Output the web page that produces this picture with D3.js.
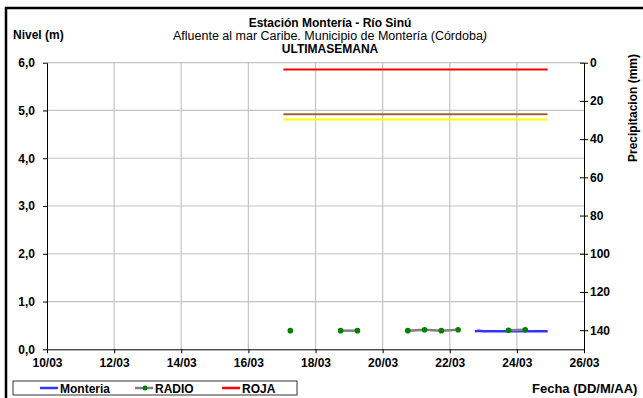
<!DOCTYPE html>
<html>
<head>
<meta charset="utf-8">
<script src="https://cdn.jsdelivr.net/npm/d3@7"></script>
<style>
  html, body { margin: 0; padding: 0; background: #fff; }
  svg { display: block; font-family: "Liberation Sans", Arial, sans-serif; }
</style>
</head>
<body>
<svg id="chart" width="643" height="398"></svg>
<script>
// ---------- data ----------
const YEAR = 2011;
const xTickLabels = ["10/03","12/03","14/03","16/03","18/03","20/03","22/03","24/03","26/03"];
const yTickLabels = ["0,0","1,0","2,0","3,0","4,0","5,0","6,0"];
const yTickValues = [0,1,2,3,4,5,6];
const precipTicks = [0,20,40,60,80,100,120,140];

const monteriaTimes  = ["22/03 18:00","22/03 21:00","23/03 00:00","23/03 12:00","24/03 00:00","24/03 12:00","24/03 22:00"];
const monteriaValues = [0.38, 0.39, 0.38, 0.38, 0.38, 0.38, 0.38];

const radioTimes  = ["17/03 06:00","18/03 18:00","19/03 06:00","20/03 18:00","21/03 06:00","21/03 18:00","22/03 06:00","23/03 18:00","24/03 06:00"];
const radioValues = [0.39, 0.39, 0.39, 0.39, 0.41, 0.39, 0.41, 0.40, 0.41];

const thresholdNames  = ["ROJA", "NARANJA", "AMARILLA"];
const thresholdValues = [5.86, 4.92, 4.81];
const thresholdColors = ["#ff0000", "#996633", "#ffff00"];
const thresholdStart = "17/03 01:00";
const thresholdEnd   = "24/03 22:00";

// ---------- helpers ----------
const parse = d3.timeParse("%d/%m/%Y %H:%M");
const p = s => parse(s.split(" ")[0] + "/" + YEAR + " " + (s.split(" ")[1] || "00:00"));

const svg = d3.select("#chart");

// chart frame (cropped on right and bottom)
svg.append("rect").attr("x", 6).attr("y", 8).attr("width", 660).attr("height", 420)
  .attr("fill", "none").attr("stroke", "#000").attr("stroke-width", 2.5);

const L = 47, R = 584, T = 62.7, B = 349.3;

const x = d3.scaleTime().domain([p(xTickLabels[0]), p(xTickLabels[xTickLabels.length-1])]).range([L, R]);
const y = d3.scaleLinear().domain([0, 6]).range([B, T]);
const y2 = d3.scaleLinear().domain([0, 150]).range([T, B]);

// gridlines
const grid = svg.append("g");
grid.selectAll("line.h").data(yTickValues.slice(1)).join("line")
  .attr("x1", L).attr("x2", R).attr("y1", d => y(d)).attr("y2", d => y(d))
  .attr("stroke", "#c4c4c4").attr("stroke-width", 1.2);
grid.selectAll("line.v").data(xTickLabels.slice(1, -1)).join("line")
  .attr("x1", d => x(p(d))).attr("x2", d => x(p(d))).attr("y1", T).attr("y2", B)
  .attr("stroke", "#c4c4c4").attr("stroke-width", 1.2);

// threshold lines
thresholdValues.forEach((v, i) => {
  svg.append("line")
    .attr("x1", x(p(thresholdStart))).attr("x2", x(p(thresholdEnd)))
    .attr("y1", y(v)).attr("y2", y(v))
    .attr("stroke", thresholdColors[i]).attr("stroke-width", 2);
});

// Monteria series
const line = d3.line().x(d => x(d.t)).y(d => y(d.v));
const monteria = monteriaTimes.map((t, i) => ({ t: p(t), v: monteriaValues[i] }));
svg.append("path").datum(monteria).attr("d", line)
  .attr("fill", "none").attr("stroke", "#3333ff").attr("stroke-width", 2.5);

// RADIO series: connect readings no more than 12 h apart
const radio = radioTimes.map((t, i) => ({ t: p(t), v: radioValues[i] }));
const segs = [];
radio.forEach((d, i) => {
  if (i === 0 || (d.t - radio[i-1].t) > 12 * 3600 * 1000) segs.push([d]);
  else segs[segs.length-1].push(d);
});
svg.append("g").selectAll("path").data(segs.filter(s => s.length > 1)).join("path")
  .attr("d", line).attr("fill", "none").attr("stroke", "#808080").attr("stroke-width", 2.5);
svg.append("g").selectAll("circle").data(radio).join("circle")
  .attr("cx", d => x(d.t)).attr("cy", d => y(d.v)).attr("r", 2.8)
  .attr("fill", "#008000");

// axes
const fontCss = sel => sel.selectAll("text").attr("font-size", 12).attr("font-weight", "bold")
  .attr("font-family", "'Liberation Sans', Arial, sans-serif").attr("fill", "#000");

const yAxis = d3.axisLeft(y).tickValues(yTickValues).tickFormat((d, i) => yTickLabels[i])
  .tickSize(4).tickPadding(8).tickSizeOuter(0);
svg.append("g").attr("transform", `translate(${L},0)`).call(yAxis).call(fontCss)
  .call(g => g.selectAll("line,path").attr("stroke", "#000"));

const xAxis = d3.axisBottom(x).tickValues(xTickLabels.map(d => p(d))).tickFormat((d, i) => xTickLabels[i])
  .tickSize(4).tickPadding(5).tickSizeOuter(0);
svg.append("g").attr("transform", `translate(0,${B})`).call(xAxis).call(fontCss)
  .call(g => g.selectAll("line,path").attr("stroke", "#000"));

const y2Axis = d3.axisRight(y2).tickValues(precipTicks).tickSize(4).tickPadding(2).tickSizeOuter(0);
const g2 = svg.append("g").attr("transform", `translate(${R},0)`).call(y2Axis).call(fontCss)
  .call(g => g.selectAll("line,path").attr("stroke", "#000"));
g2.selectAll(".tick line").attr("x1", -4);

// titles
const txt = (s, xx, yy, opts = {}) => svg.append("text").text(s).attr("x", xx).attr("y", yy)
  .attr("font-size", opts.size || 12).attr("font-weight", opts.bold === false ? "normal" : "bold")
  .attr("text-anchor", opts.anchor || "middle").attr("fill", "#000");

txt("Estación Montería  - Río Sinú", 330, 27, { });
const sub = txt("Afluente al mar Caribe. Municipio de Montería (Córdoba", 330, 40, { bold: false, size: 12.5 });
sub.append("tspan").attr("font-style", "italic").text(")");
txt("ULTIMASEMANA", 330, 53, { });
txt("Nivel (m)", 13, 39, { anchor: "start" });
txt("Fecha (DD/M/AA)", 532, 393, { anchor: "start", size: 13 });
svg.append("text").text("Precipitacion (mm)")
  .attr("transform", "translate(637,108) rotate(-90)")
  .attr("text-anchor", "middle").attr("font-size", 12).attr("font-weight", "bold");

// legend
const lg = svg.append("g");
lg.append("rect").attr("x", 13).attr("y", 381).attr("width", 284).attr("height", 14)
  .attr("fill", "#fff").attr("stroke", "#333").attr("stroke-width", 1);
const legendNames = ["Monteria", "RADIO", "ROJA"];
const legendColors = ["#3333ff", "#808080", "#ff0000"];
const legendX = [40, 135, 222];
legendNames.forEach((n, i) => {
  lg.append("line").attr("x1", legendX[i]).attr("x2", legendX[i] + 18).attr("y1", 388).attr("y2", 388)
    .attr("stroke", legendColors[i]).attr("stroke-width", 2.5);
  if (n === "RADIO") lg.append("circle").attr("cx", legendX[i] + 10).attr("cy", 388).attr("r", 2.5).attr("fill", "#008000");
  lg.append("text").text(n).attr("x", legendX[i] + 20).attr("y", 392.5)
    .attr("font-size", 12).attr("font-weight", "bold");
});
</script>
</body>
</html>
